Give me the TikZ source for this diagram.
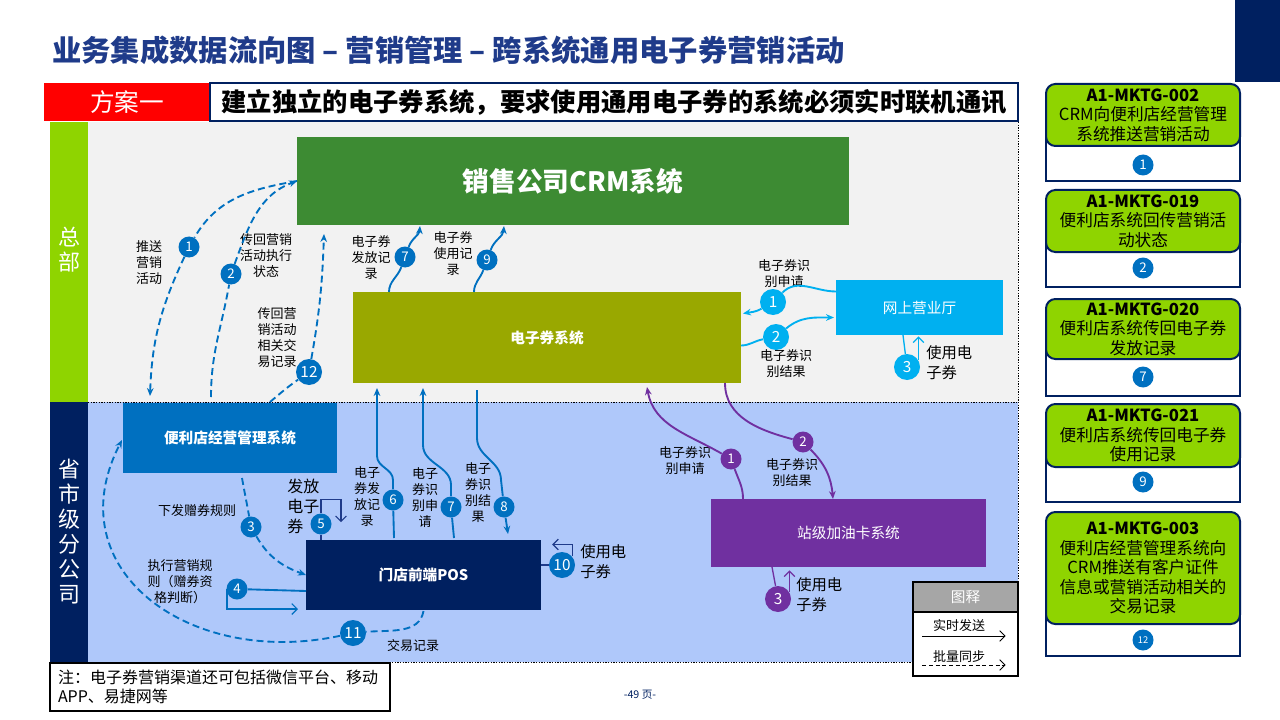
\documentclass[tikz,border=0pt]{standalone}
\usepackage{fontspec}
\setmainfont{Noto Sans CJK SC}
\usetikzlibrary{arrows.meta,calc}

\definecolor{navy}{HTML}{002060}
\definecolor{titleblue}{HTML}{1F3B8A}
\definecolor{numblue}{HTML}{0070C0}
\definecolor{crmgreen}{HTML}{3D8B33}
\definecolor{olive}{HTML}{99A800}
\definecolor{webcyan}{HTML}{00B0F0}
\definecolor{fuelpurple}{HTML}{7030A0}
\definecolor{hqgreen}{HTML}{8FD400}
\definecolor{bggray}{HTML}{F2F2F2}
\definecolor{bgblue}{HTML}{AFC8FA}
\definecolor{legendgray}{HTML}{A6A6A6}

\begin{document}
\begin{tikzpicture}[
    x = 0.75pt, y = -0.75pt,
    %
    box/.style = {inner sep = 0pt, outer sep = 0pt,
      text = white, align = center,
      font = \fontsize{11}{13}\selectfont},
    num/.style = {circle, fill = numblue, text = white,
      inner sep = 0pt, minimum size = 15.75pt,
      font = \fontsize{10}{10}\selectfont},
    bignum/.style = {num, minimum size = 19.5pt,
      font = \fontsize{11.5}{11.5}\selectfont},
    lbl/.style = {align = center, inner sep = 0pt,
      font = \fontsize{9.75}{12}\selectfont},
    biglbl/.style = {lbl, align = left, anchor = west,
      font = \fontsize{11.5}{15}\selectfont},
    %
    flow/.style = {numblue, line width = 1.4pt,
      -{Stealth[length = 6pt, width = 5pt]}},
    batch/.style = {flow, dash pattern = on 5.25pt off 3pt},
    loopback/.style = {line width = 0.9pt,
      -{Straight Barb[length = 4pt, width = 8pt]}},
    %
    idhead/.style = {draw = navy, line width = 1.5pt, fill = hqgreen,
      rounded corners = 7pt, minimum width = 145.5pt,
      inner sep = 0pt, align = center,
      font = \fontsize{12.5}{14.6}\selectfont},
    idbody/.style = {draw = navy, line width = 1.9pt, fill = white,
      minimum width = 145.5pt, inner sep = 0pt},
    ]

    \useasboundingbox (0, 0) rectangle (1280, 720);

    % title and scheme bar
    \fill[navy] (1235, 0) rectangle (1280, 82);
    \node at (52, 50) [anchor = west, inner sep = 0pt, text = titleblue,
      font = \fontsize{22}{26}\selectfont\bfseries, name = title]
    {业务集成数据流向图 – 营销管理 – 跨系统通用电子券营销活动};

    \node at (127, 102) [box, fill = red, minimum width = 124.5pt,
      minimum height = 28.5pt, font = \fontsize{18.5}{20}\selectfont,
      name = plan] {方案一};
    \node at (614, 102) [box, fill = white, draw = navy, line width = 2pt,
      minimum width = 606pt, minimum height = 28.5pt, text = black,
      font = \fontsize{19}{21}\selectfont\bfseries, name = scheme]
    {建立独立的电子券系统，要求使用通用电子券的系统必须实时联机通讯};

    % areas
    \fill[bggray] (88, 122) rectangle (1018, 402);
    \fill[bgblue] (88, 402) rectangle (1018, 662);
    \draw[line width = 0.75pt, dash pattern = on 1pt off 1pt]
    (88, 402) -- (1018, 402) (88, 662) -- (1018, 662)
    (1018, 122) -- (1018, 662);

    \node at (69, 262) [box, fill = hqgreen, minimum width = 28.5pt,
      minimum height = 210pt, name = hq] {};
    \node at ($(hq.center) + (0, -12)$) [box,
      font = \fontsize{16.5}{18.75}\selectfont, name = hqtxt] {总\\部};
    \node at (69, 532) [box, fill = navy, minimum width = 28.5pt,
      minimum height = 195pt, font = \fontsize{16.5}{18.75}\selectfont,
      name = branch] {省\\市\\级\\分\\公\\司};

    % systems
    \node at (573, 181) [box, fill = crmgreen, minimum width = 414pt,
      minimum height = 66pt, font = \fontsize{20}{24}\selectfont\bfseries,
      name = crm] {销售公司CRM系统};
    \node at (547, 337.5) [box, fill = olive, minimum width = 291pt,
      minimum height = 68.25pt, font = \fontsize{11}{13}\selectfont\bfseries,
      name = ecs] {电子券系统};
    \node at (919.5, 307.5) [box, fill = webcyan, minimum width = 125.25pt,
      minimum height = 41.25pt, name = web] {网上营业厅};
    \node at (230, 438) [box, fill = numblue, minimum width = 160.5pt,
      minimum height = 52.5pt, font = \fontsize{11}{13}\selectfont\bfseries,
      name = cvs] {便利店经营管理系统};
    \node at (423.5, 575) [box, fill = navy, minimum width = 176.25pt,
      minimum height = 52.5pt, font = \fontsize{11}{13}\selectfont\bfseries,
      name = pos] {门店前端POS};
    \node at (848.5, 533) [box, fill = fuelpurple, minimum width = 206.25pt,
      minimum height = 51pt, name = fuel] {站级加油卡系统};

    % step numbers
    \node at (189, 247) [num, name = p1] {1};
    \node at (231, 274) [num, name = p2] {2};
    \node at (309, 372) [bignum, name = p12] {12};
    \node at (405, 257) [num, name = p7] {7};
    \node at (487, 260) [num, name = p9] {9};
    \node at (251, 527) [num, name = p3] {3};
    \node at (237, 589) [num, name = p4] {4};
    \node at (321, 524) [num, name = p5] {5};
    \node at (393, 500) [num, name = p6] {6};
    \node at (451, 507) [num, name = q7] {7};
    \node at (504, 507) [num, name = p8] {8};
    \node at (562, 565) [bignum, name = p10] {10};
    \node at (353, 633) [bignum, name = p11] {11};

    \node at (773, 302) [bignum, fill = webcyan, name = w1] {1};
    \node at (776, 337) [bignum, fill = webcyan, name = w2] {2};
    \node at (907, 367) [bignum, fill = webcyan, name = w3] {3};

    \node at (731, 459) [num, fill = fuelpurple, name = f1] {1};
    \node at (803, 442) [num, fill = fuelpurple, name = f2] {2};
    \node at (778, 599) [bignum, fill = fuelpurple, name = f3] {3};

    % labels
    \node at (149, 263) [lbl] {推送\\营销\\活动};
    \node at (266, 256) [lbl] {传回营销\\活动执行\\状态};
    \node at (277, 338) [lbl] {传回营\\销活动\\相关交\\易记录};
    \node at (371, 258) [lbl] {电子券\\发放记\\录};
    \node at (453, 254) [lbl] {电子券\\使用记\\录};
    \node at (784, 274) [lbl] {电子券识\\别申请};
    \node at (786, 364) [lbl] {电子券识\\别结果};
    \node at (926, 363) [biglbl] {使用电\\子券};
    \node at (197, 511) [lbl] {下发赠券规则};
    \node at (180, 582) [lbl] {执行营销规\\则（赠券资\\格判断）};
    \node at (287, 506) [biglbl, font = \fontsize{12}{15}\selectfont]
    {发放\\电子\\券};
    \node at (367, 497) [lbl] {电子\\券发\\放记\\录};
    \node at (425, 498) [lbl] {电子\\券识\\别申\\请};
    \node at (478, 493) [lbl] {电子\\券识\\别结\\果};
    \node at (413, 646) [lbl] {交易记录};
    \node at (580, 562) [biglbl] {使用电\\子券};
    \node at (685, 461) [lbl] {电子券识\\别申请};
    \node at (792, 473) [lbl] {电子券识\\别结果};
    \node at (796, 595) [biglbl] {使用电\\子券};

    % batch sync
    \draw[batch] (crm.west) to[out = 190, in = 60] (p1)
    to[out = -115, in = 88] ($(cvs.north west) + (27, -7)$);
    \draw[batch] ($(cvs.north west) + (88, -6)$) to[out = 90, in = -100] (p2)
    to[out = 70, in = 200] (crm.west);
    \draw[batch] ($(cvs.north west) + (147, -1)$) to[out = 40, in = 215] (p12)
    to[out = 80, in = -92] ($(crm.south west) + (27, 9)$);
    \draw[batch] ($(cvs.south west) + (119, 5)$) to[out = -80, in = 100] (p3)
    to[out = -60, in = 160] (pos.west);
    \draw[batch] ($(pos.south) + (0, 1)$) to[out = -100, in = 5] (p11)
    .. controls (190, 668) and (55, 570) .. ($(cvs.west) + (-1, 2)$);

    % real time
    \draw[flow] ($(ecs.north west) + (36, 0)$) to[out = 90, in = -110] (p7)
    to[out = 70, in = -95] ($(crm.south west) + (123, 1)$);
    \draw[flow] ($(ecs.north west) + (121, 0)$) to[out = 90, in = -110] (p9)
    to[out = 70, in = -95] ($(crm.south west) + (207, 1)$);

    \draw[flow] ($(pos.north west) + (88, -2)$) -- (p6) -- ++(0, -20)
    to[out = 90, in = -90] ++(-16, -24) -- ($(ecs.south west) + (24, 5)$);
    \draw[flow] ($(pos.north west) + (148, -2)$) -- (q7) -- ++(0, -22)
    to[out = 90, in = -90] ++(-28, -40) -- ($(ecs.south west) + (70, 5)$);
    \draw[flow] ($(ecs.south west) + (124, 7)$) -- ++(0, 48)
    to[out = -90, in = 90] ++(24, 42) -- (p8)
    -- ($(pos.north west) + (202, -6)$);

    \draw[numblue, line width = 1.4pt] ($(pos.west) + (0, 16)$) -- (p4);
    \draw[loopback, numblue] ($(p4.center) + (-10, 0)$)
    |- ($(pos.south west) + (-8, -1)$);
    \draw[titleblue, line width = 1pt] ($(pos.north west) + (15, 0)$) -- (p5);
    \draw[loopback, titleblue] (p5.north) -- ++(0, -14) -- ++(20, 0)
    -- ++(0, 23);
    \draw[titleblue, line width = 1pt] ($(pos.east) + (0, -10)$) -- (p10);
    \draw[loopback, titleblue] (p10.40) -- ++(0, -12) -- ++(-20, 0);

    \draw[flow, webcyan] ($(web.west) + (0, -16)$) to[out = 180, in = 45] (w1)
    to[out = -150, in = 10] ($(ecs.east) + (2, -24)$);
    \draw[flow, webcyan] ($(ecs.east) + (0, 8)$) to[out = 0, in = 190] (w2)
    to[out = 40, in = 180] ($(web.west) + (-2, 10)$);
    \draw[webcyan, line width = 1pt] ($(web.south west) + (67, 0)$) -- (w3);
    \draw[loopback, webcyan] (w3.30) -- ++(0, -24);

    \draw[flow, fuelpurple] ($(fuel.north west) + (32, 0)$)
    to[out = 90, in = -70] (f1)
    to[out = 150, in = -80] ($(ecs.south west) + (294, 4)$);
    \draw[flow, fuelpurple] ($(ecs.south west) + (372, 0)$)
    to[out = -90, in = 165] (f2)
    to[out = -45, in = 95] ($(fuel.north west) + (122, 0)$);
    \draw[fuelpurple, line width = 1pt] ($(fuel.south west) + (61, 0)$) -- (f3);
    \draw[loopback, fuelpurple] (f3.30) -- ++(0, -22);

    % legend
    \node at (965.5, 629) [draw, fill = white, line width = 0.9pt,
      minimum width = 78.75pt, minimum height = 70.5pt, inner sep = 0pt,
      name = legend] {};
    \node at (965.5, 597) [box, draw, fill = legendgray, line width = 0.9pt,
      minimum width = 78.75pt, minimum height = 22.5pt,
      name = legendhead] {图释};
    \node at (959, 626) [lbl, name = realtime] {实时发送};
    \node at (959, 657) [lbl, name = batchsync] {批量同步};
    \draw[loopback, line width = 0.6pt] ($(legend.west) + (10, 7)$)
    -- ($(legend.east) + (-13, 7)$);
    \draw[loopback, line width = 0.6pt, densely dashed]
    ($(legend.west) + (10, 36)$) -- ($(legend.east) + (-13, 36)$);

    % note and page
    \node at (220, 687) [draw, fill = white, line width = 0.9pt,
      minimum width = 255pt, minimum height = 36pt, inner sep = 0pt,
      text width = 243pt, align = left,
      font = \fontsize{12}{14.5}\selectfont, name = note]
    {注：电子券营销渠道还可包括微信平台、移动\\APP、易捷网等};
    \node at (640, 695) [text = navy, font = \fontsize{8}{8}\selectfont,
      name = page] {-49 页-};

    % interface ids
    \node at (1143, 148) [idbody, minimum height = 49.5pt, name = id1b] {};
    \node at (1143, 115) [idhead, minimum height = 46.5pt, name = id1]
    {\textbf{A1-MKTG-002}\\CRM向便利店经营管理\\系统推送营销活动};
    \node at (1143, 165) [num, name = id1n] {1};

    \node at (1143, 254) [idbody, minimum height = 49.5pt, name = id2b] {};
    \node at (1143, 221) [idhead, minimum height = 46.5pt, name = id2]
    {\textbf{A1-MKTG-019}\\便利店系统回传营销活\\动状态};
    \node at (1143, 268) [num, name = id2n] {2};

    \node at (1143, 362.5) [idbody, minimum height = 50.25pt, name = id3b] {};
    \node at (1143, 329) [idhead, minimum height = 45pt, name = id3]
    {\textbf{A1-MKTG-020}\\便利店系统传回电子券\\发放记录};
    \node at (1143, 377) [num, name = id3n] {7};

    \node at (1143, 468.75) [idbody, minimum height = 49.9pt, name = id4b] {};
    \node at (1143, 435.5) [idhead, minimum height = 47.25pt, name = id4]
    {\textbf{A1-MKTG-021}\\便利店系统传回电子券\\使用记录};
    \node at (1143, 482) [num, name = id4n] {9};

    \node at (1143, 612) [idbody, minimum height = 66pt, name = id5b] {};
    \node at (1143, 568) [idhead, minimum height = 84pt, name = id5]
    {\textbf{A1-MKTG-003}\\便利店经营管理系统向\\CRM推送有客户证件\\信息或营销活动相关的\\交易记录};
    \node at (1143, 640) [num, font = \fontsize{7}{7}\selectfont,
      name = id5n] {12};

  \end{tikzpicture}
\end{document}
